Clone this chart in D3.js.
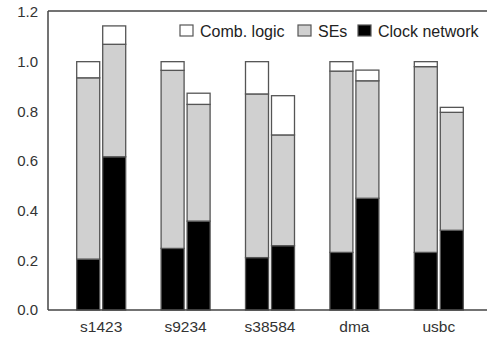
<!DOCTYPE html>
<html>
<head>
<meta charset="utf-8">
<script src="https://cdn.jsdelivr.net/npm/d3@7"></script>
<style>
  body { margin: 0; background: #fff; }
  text { font-family: "Liberation Sans", Arial, sans-serif; }
</style>
</head>
<body>
<script>
// benchmarks, two bars each
var circuits = ["s1423", "s9234", "s38584", "dma", "usbc"];
var layers = ["Clock network", "SEs", "Comb. logic"];
// cumulative tops per bar: [clock, clock+SEs, total]
var barA = [[0.205, 0.935, 1.0], [0.248, 0.965, 1.0], [0.211, 0.87, 1.0], [0.232, 0.962, 1.0], [0.232, 0.98, 1.0]];
var barB = [[0.617, 1.07, 1.144], [0.358, 0.828, 0.873], [0.259, 0.705, 0.863], [0.45, 0.923, 0.966], [0.321, 0.796, 0.816]];
var yTicks = [0, 0.2, 0.4, 0.6, 0.8, 1.0, 1.2];
var legendItems = ["Comb. logic", "SEs", "Clock network"];

var W = 487, H = 337;
var fills = {"Clock network": "#000", "SEs": "#d0d0d0", "Comb. logic": "#fff"};

var svg = d3.select("body").append("svg")
    .attr("width", W).attr("height", H);

var mLeft = 48, mTop = 11, mBottom = 310, mRight = 487;

var y = d3.scaleLinear().domain([0, 1.2]).range([mBottom, mTop + 1]);
var x = d3.scaleBand().domain(circuits).range([59, 481]);
var barW = 23, gap = 3;

// bars
circuits.forEach(function(c, i){
  [barA[i], barB[i]].forEach(function(tops, j){
    var bx = x(c) + x.bandwidth()/2 + (j === 0 ? -gap/2 - barW : gap/2);
    var prev = 0;
    tops.forEach(function(t, k){
      svg.append("rect")
        .attr("x", bx).attr("width", barW)
        .attr("y", y(t)).attr("height", y(prev) - y(t))
        .attr("fill", fills[layers[k]])
        .attr("stroke", "#555").attr("stroke-width", 1.3);
      prev = t;
    });
  });
});

// frame
svg.append("line").attr("x1", mLeft).attr("x2", mRight).attr("y1", mTop).attr("y2", mTop)
  .attr("stroke", "#444").attr("stroke-width", 1.5);
svg.append("line").attr("x1", mLeft).attr("x2", mLeft).attr("y1", mTop).attr("y2", mBottom)
  .attr("stroke", "#444").attr("stroke-width", 1.5);
svg.append("line").attr("x1", mLeft).attr("x2", mRight).attr("y1", mBottom).attr("y2", mBottom)
  .attr("stroke", "#444").attr("stroke-width", 1.5);

// y axis labels
var yAxis = svg.append("g").attr("transform", "translate(" + mLeft + ",0)")
  .call(d3.axisLeft(y).tickValues(yTicks).tickFormat(d3.format(".1f")).tickSize(0).tickPadding(10));
yAxis.select(".domain").remove();
yAxis.selectAll("text").attr("font-size", 15).attr("fill", "#333")
  .style("font-family", "Liberation Sans, Arial, sans-serif");

// x axis labels
var xAxis = svg.append("g").attr("transform", "translate(0," + mBottom + ")")
  .call(d3.axisBottom(x).tickSize(0).tickPadding(11));
xAxis.select(".domain").remove();
xAxis.selectAll("text").attr("font-size", 15.5).attr("fill", "#333")
  .style("font-family", "Liberation Sans, Arial, sans-serif");

// legend
var legX = [180, 298, 358];
legendItems.forEach(function(name, i){
  svg.append("rect").attr("x", legX[i]).attr("y", 25).attr("width", 13).attr("height", 11)
    .attr("fill", fills[name]).attr("stroke", "#555").attr("stroke-width", 1.2);
  svg.append("text").attr("x", legX[i] + 20).attr("y", 37)
    .attr("font-size", 16).attr("fill", "#222").text(name);
});
</script>
</body>
</html>
